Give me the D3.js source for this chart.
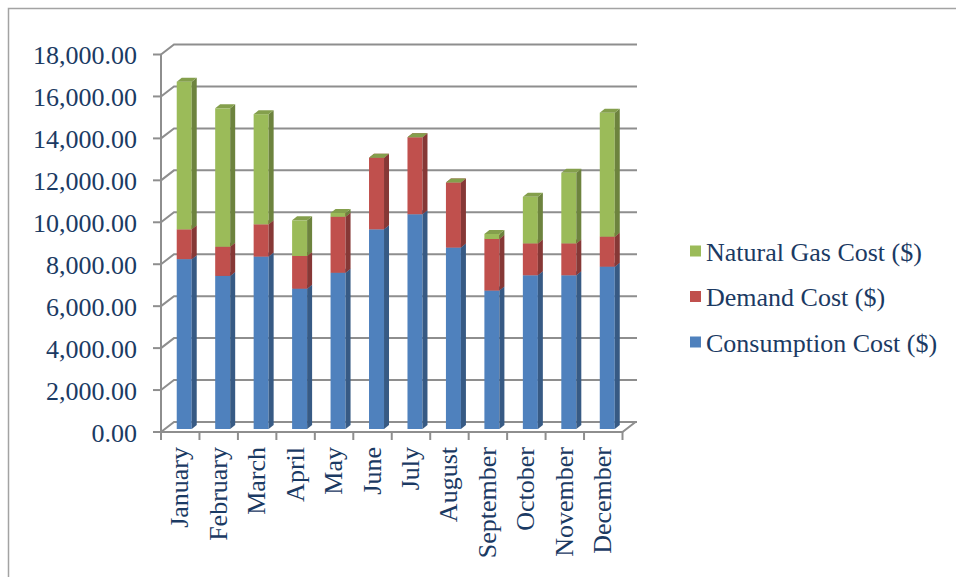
<!DOCTYPE html>
<html>
<head>
<meta charset="utf-8">
<script src="https://cdn.jsdelivr.net/npm/d3@7"></script>
<style>
  html, body { margin: 0; padding: 0; background: #fff; }
  svg { display: block; font-family: "Liberation Serif", "Times New Roman", serif; }
</style>
</head>
<body>
<svg id="chart" width="956" height="577"></svg>
<script>
// Monthly utility costs, stacked by component
const months = ["January", "February", "March", "April", "May", "June",
                "July", "August", "September", "October", "November", "December"];
const consumptionCost = [8100, 7300, 8220, 6690, 7450, 9520, 10240, 8650, 6600, 7330, 7330, 7740];
const demandCost      = [1420, 1390, 1540, 1560, 2670, 3410, 3670, 3100, 2460, 1520, 1520, 1430];
const naturalGasCost  = [7040, 6600, 5250, 1700, 180, 0, 0, 0, 240, 2220, 3370, 5910];
const seriesNames = ["Consumption Cost ($)", "Demand Cost ($)", "Natural Gas Cost ($)"];
const seriesColors = ["#4f81bd", "#c0504d", "#9bbb59"];
const yTicks = [0, 2000, 4000, 6000, 8000, 10000, 12000, 14000, 16000, 18000];

const svg = d3.select("#chart");
const textColor = "#1b3a63";
const gridColor = "#8e8e8e";

// outer frame
svg.append("path")
  .attr("d", "M8.5,600 V8.5 H960")
  .attr("fill", "none").attr("stroke", "#a3a3a3").attr("stroke-width", 1.5);

// plot geometry: front plane plus a receding depth offset
const plotLeft = 161, plotRight = 622.5, plotBottom = 432, plotTop = 54.5;
const depthX = 13, depthY = -10;          // wall / floor depth
const barDepthX = 5, barDepthY = -4;      // column depth
const barOffX = (depthX - barDepthX) / 2, barOffY = (depthY - barDepthY) / 2;

const x = d3.scaleBand().domain(months).range([plotLeft, plotRight]).paddingInner(0.61).paddingOuter(0.305);
const y = d3.scaleLinear().domain([0, 18000]).range([plotBottom, plotTop]);

const g = svg.append("g");

// back wall gridlines with their diagonal on the side wall
yTicks.forEach(t => {
  const yy = y(t);
  g.append("path")
    .attr("d", `M${plotLeft},${yy} L${plotLeft + depthX},${yy + depthY} H${plotRight + depthX + 1.5}`)
    .attr("fill", "none").attr("stroke", gridColor).attr("stroke-width", 2);
});

// floor: front edge and right edge
g.append("path")
  .attr("d", `M${plotLeft},${plotBottom} H${plotRight} L${plotRight + depthX},${plotBottom + depthY}`)
  .attr("fill", "none").attr("stroke", gridColor).attr("stroke-width", 2);

// value axis line and ticks
g.append("line").attr("x1", plotLeft).attr("x2", plotLeft).attr("y1", plotTop).attr("y2", plotBottom)
  .attr("stroke", gridColor).attr("stroke-width", 2);
yTicks.forEach(t => {
  g.append("line").attr("x1", plotLeft - 8).attr("x2", plotLeft).attr("y1", y(t)).attr("y2", y(t))
    .attr("stroke", gridColor).attr("stroke-width", 2);
});

// category ticks along the floor front edge
const step = x.step();
d3.range(months.length + 1).forEach(i => {
  const xx = plotLeft + i * step;
  g.append("line").attr("x1", xx).attr("x2", xx).attr("y1", plotBottom).attr("y2", plotBottom + 8)
    .attr("stroke", gridColor).attr("stroke-width", 2);
});

// value labels
const fmt = d3.format(",.2f");
svg.append("g").selectAll("text").data(yTicks).join("text")
  .attr("x", 137).attr("y", d => y(d) + 9.5)
  .attr("text-anchor", "end")
  .attr("font-size", 26).attr("fill", textColor)
  .text(d => fmt(d));

// stacked 3-D columns
const stackData = months.map((m, i) => ({
  month: m, c: consumptionCost[i], d: demandCost[i], n: naturalGasCost[i]
}));
const stacked = d3.stack().keys(["c", "d", "n"])(stackData);

const bars = svg.append("g");
months.forEach((m, i) => {
  const x0 = x(m) + barOffX, w = x.bandwidth();
  stacked.forEach((layer, k) => {
    const [v0, v1] = layer[i];
    const yb = y(v0) + barOffY, yt = y(v1) + barOffY;
    const base = d3.color(seriesColors[k]);
    const grp = bars.append("g");
    if (yb - yt > 0.01) {
      grp.append("rect").attr("x", x0).attr("y", yt).attr("width", w).attr("height", yb - yt)
        .attr("fill", base.formatHex());
      grp.append("path")
        .attr("d", `M${x0 + w},${yt} L${x0 + w + barDepthX},${yt + barDepthY} L${x0 + w + barDepthX},${yb + barDepthY} L${x0 + w},${yb} Z`)
        .attr("fill", base.darker(1.0).formatHex());
    }
    grp.append("path")
      .attr("d", `M${x0},${yt} L${x0 + barDepthX},${yt + barDepthY} L${x0 + w + barDepthX},${yt + barDepthY} L${x0 + w},${yt} Z`)
      .attr("fill", base.darker(0.45).formatHex());
  });
});

// category labels, rotated
svg.append("g").selectAll("text").data(months).join("text")
  .attr("transform", d => `translate(${x(d) + x.bandwidth() / 2 + 8},447) rotate(-90)`)
  .attr("text-anchor", "end")
  .attr("font-size", 26).attr("fill", textColor)
  .text(d => d);

// legend (top to bottom: natural gas, demand, consumption)
const legendOrder = [2, 1, 0];
const legend = svg.append("g");
legendOrder.forEach((k, row) => {
  const cy = 251 + row * 45.5;
  legend.append("rect").attr("x", 690).attr("y", cy - 5.5).attr("width", 11).attr("height", 11)
    .attr("fill", seriesColors[k]);
  legend.append("text").attr("x", 706).attr("y", cy + 9.5)
    .attr("font-size", 26).attr("fill", textColor)
    .text(seriesNames[k]);
});
</script>
</body>
</html>
